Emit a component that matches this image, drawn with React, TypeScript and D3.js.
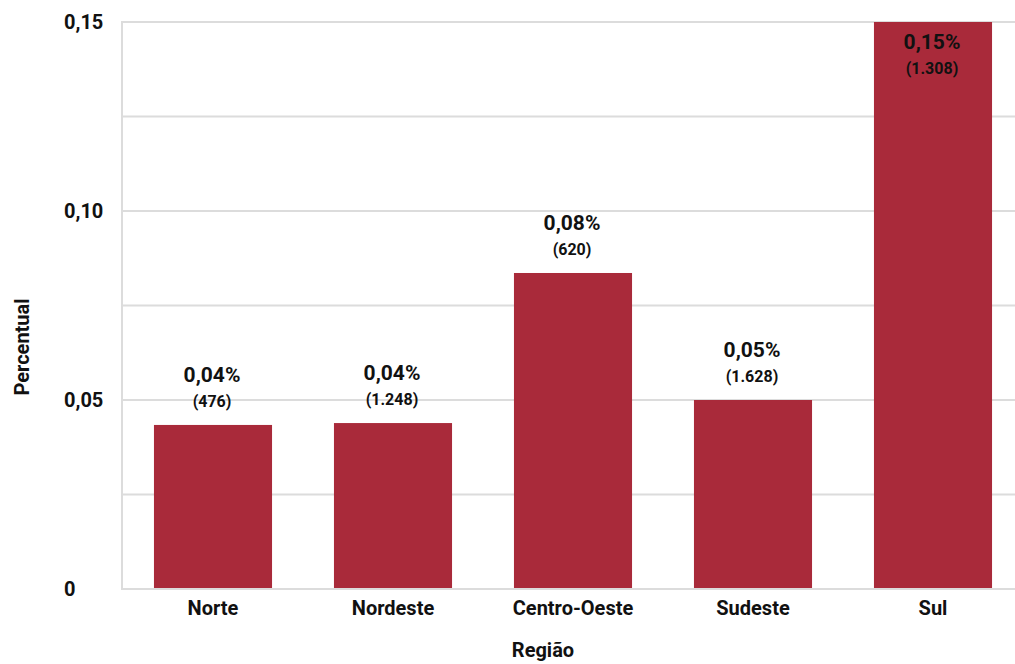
import React from "react";
import * as d3 from "d3";

const categories = ["Norte", "Nordeste", "Centro-Oeste", "Sudeste", "Sul"];
const values = [0.0434, 0.0439, 0.0836, 0.05, 0.15];
const percentLabels = ["0,04%", "0,04%", "0,08%", "0,05%", "0,15%"];
const countLabels = ["(476)", "(1.248)", "(620)", "(1.628)", "(1.308)"];
const yTicks = [0, 0.05, 0.1, 0.15];
const yTickLabels = ["0", "0,05", "0,10", "0,15"];
const gridTicks = [0.025, 0.05, 0.075, 0.1, 0.125, 0.15];

const W = 1015;
const H = 664;
const FONT = "Roboto, 'Noto Sans', sans-serif";

export default function App() {
  const x = d3
    .scaleBand<string>()
    .domain(categories)
    .range([123, 1023])
    .paddingInner(0.344)
    .paddingOuter(0.172);
  const y = d3.scaleLinear().domain([0, 0.15]).range([589, 22]);
  const barColor = "#a92a3a";
  const grid = "#dcdcdc";

  return (
    <svg
      width={W}
      height={H}
      style={{ position: "absolute", left: 0, top: 0, background: "#fff" }}
      fontFamily={FONT}
      fontWeight="bold"
    >
      {gridTicks.map((t) => (
        <line key={t} x1={122} x2={W} y1={y(t)} y2={y(t)} stroke={grid} strokeWidth={2} />
      ))}
      <line x1={122} x2={122} y1={y(0.15) - 1} y2={y(0) + 1} stroke={grid} strokeWidth={2} />
      <line x1={122} x2={W} y1={y(0)} y2={y(0)} stroke={grid} strokeWidth={2} />
      {yTicks.map((t, i) => (
        <text key={t} x={64} y={y(t)} dy="0.35em" fontSize={20} fill="#111">
          {yTickLabels[i]}
        </text>
      ))}
      {categories.map((c, i) => {
        const bx = x(c)!;
        const bw = x.bandwidth();
        const top = y(values[i]);
        const inside = values[i] >= 0.14;
        const cx = bx + bw / 2 - 1;
        const pY = inside ? top + 20 : top - 50;
        const cY = inside ? top + 46 : top - 24;
        return (
          <g key={c}>
            <rect x={bx} y={top} width={bw} height={y(0) - 1 - top} fill={barColor} />
            <text x={cx} y={pY} dy="0.35em" textAnchor="middle" fontSize={21} fill="#111">
              {percentLabels[i]}
            </text>
            <text x={cx} y={cY} dy="0.35em" textAnchor="middle" fontSize={16} fill="#111">
              {countLabels[i]}
            </text>
            <text x={bx + bw / 2} y={608} dy="0.35em" textAnchor="middle" fontSize={20} fill="#111">
              {c}
            </text>
          </g>
        );
      })}
      <text x={543} y={650} dy="0.35em" textAnchor="middle" fontSize={20} fill="#111">
        Região
      </text>
      <text
        transform="translate(22,347) rotate(-90)"
        dy="0.35em"
        textAnchor="middle"
        fontSize={20}
        fill="#111"
      >
        Percentual
      </text>
    </svg>
  );
}
